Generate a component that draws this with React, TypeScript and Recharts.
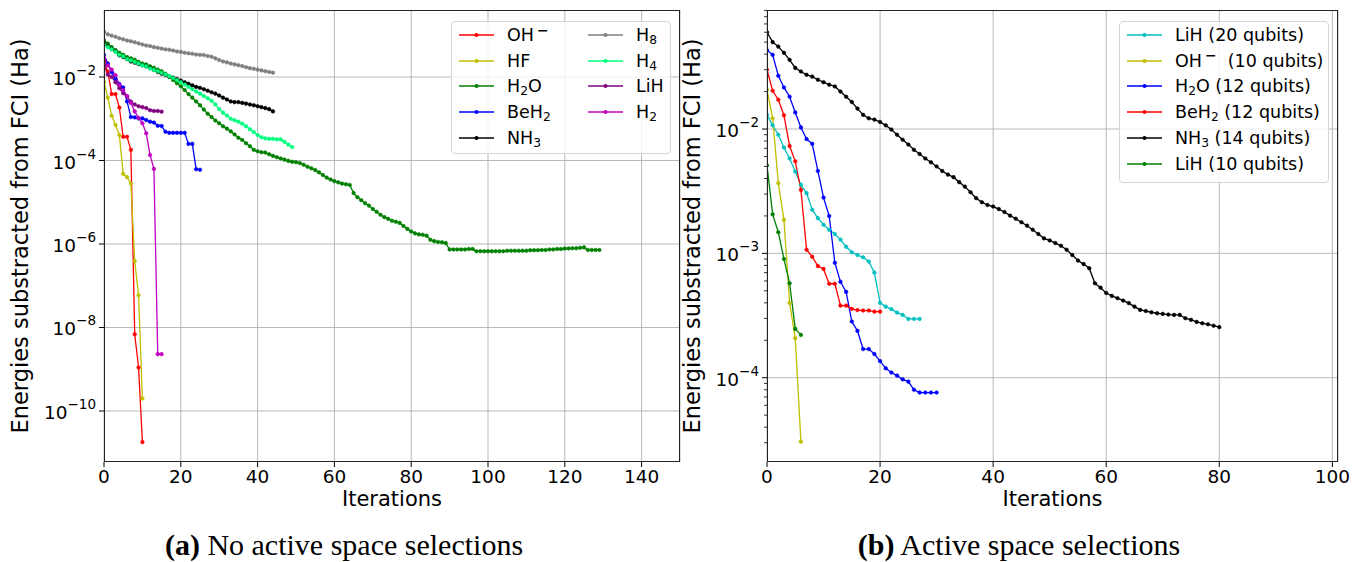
import React from 'react';
import { LineChart, Line, XAxis, YAxis, CartesianGrid, ReferenceLine } from 'recharts';

const FONT = '"DejaVu Sans", Verdana, sans-serif';

// ---------- panel (a): no active space selections ----------
const ITER_TICKS_A = [0, 20, 40, 60, 80, 100, 120, 140];
const LOG_TICKS_A = [1e-10, 1e-8, 1e-6, 1e-4, 1e-2];

const OH_A = [2.3e-2, 1.35e-2, 3.9e-3, 3.9e-3, 1.85e-3, 3.7e-4, 3.7e-4, 1.8e-4, 6.9e-9, 1.1e-9, 1.8e-11];
const HF_A = [7.5e-3, 3.2e-3, 1.18e-3, 7.1e-4, 4.1e-4, 4.8e-5, 4.0e-5, 2.8e-5, 3.9e-7, 5.9e-8, 2.0e-10];
const H2O_A = [
  7.6e-2, 6.3e-2, 5.2e-2, 4.4e-2, 3.8e-2, 3.4e-2, 3.0e-2, 2.8e-2, 2.6e-2, 2.3e-2,
  2.1e-2, 2.0e-2, 1.8e-2, 1.66e-2, 1.5e-2, 1.38e-2, 1.2e-2, 1.0e-2, 8.5e-3, 7.1e-3,
  6.0e-3, 4.9e-3, 3.9e-3, 3.2e-3, 2.6e-3, 2.1e-3, 1.66e-3, 1.32e-3, 1.1e-3, 9.1e-4,
  7.8e-4, 6.6e-4, 5.8e-4, 5.0e-4, 4.2e-4, 3.5e-4, 3.1e-4, 2.6e-4, 2.2e-4, 1.8e-4,
  1.66e-4, 1.58e-4, 1.55e-4, 1.41e-4, 1.29e-4, 1.2e-4, 1.12e-4, 1.05e-4, 9.8e-5, 9.3e-5,
  9.1e-5, 8.7e-5, 7.9e-5, 7.1e-5, 6.5e-5, 5.9e-5, 5.2e-5, 4.5e-5, 3.9e-5, 3.5e-5,
  3.2e-5, 3.0e-5, 2.8e-5, 2.7e-5, 2.6e-5, 1.66e-5, 1.32e-5, 1.12e-5, 9.5e-6, 8.3e-6,
  6.9e-6, 5.9e-6, 5.0e-6, 4.4e-6, 4.0e-6, 3.6e-6, 3.4e-6, 3.2e-6, 2.7e-6, 2.3e-6,
  2.0e-6, 1.8e-6, 1.7e-6, 1.66e-6, 1.58e-6, 1.26e-6, 1.17e-6, 1.12e-6, 1.1e-6, 1.05e-6,
  7.4e-7, 7.4e-7, 7.4e-7, 7.4e-7, 7.4e-7, 7.6e-7, 7.6e-7, 6.7e-7, 6.7e-7, 6.7e-7,
  6.7e-7, 6.7e-7, 6.7e-7, 6.7e-7, 6.7e-7, 6.9e-7, 6.9e-7, 6.9e-7, 6.9e-7, 6.9e-7,
  6.9e-7, 7.1e-7, 7.1e-7, 7.1e-7, 7.2e-7, 7.2e-7, 7.4e-7, 7.4e-7, 7.6e-7, 7.6e-7,
  7.8e-7, 7.8e-7, 7.9e-7, 7.9e-7, 8.1e-7, 8.3e-7, 7.2e-7, 7.2e-7, 7.2e-7, 7.2e-7,
];
const BEH2_A = [
  3.4e-2, 2.1e-2, 1.3e-2, 9.0e-3, 6.8e-3, 5.6e-3, 2.6e-3, 1.1e-3, 1.08e-3, 1.02e-3,
  1.02e-3, 9.3e-4, 8.5e-4, 8.1e-4, 6.8e-4, 6.7e-4, 4.9e-4, 4.6e-4, 4.6e-4, 4.6e-4,
  4.6e-4, 4.6e-4, 2.5e-4, 2.5e-4, 6.2e-5, 6.0e-5,
];
const NH3_A = [
  6.4e-2, 5.5e-2, 4.7e-2, 4.1e-2, 3.3e-2, 3.0e-2, 2.7e-2, 2.35e-2, 2.2e-2, 2.05e-2,
  1.92e-2, 1.8e-2, 1.65e-2, 1.48e-2, 1.32e-2, 1.2e-2, 1.12e-2, 1.04e-2, 9.7e-3, 8.9e-3,
  8.2e-3, 7.5e-3, 6.9e-3, 6.3e-3, 5.8e-3, 5.5e-3, 5.1e-3, 4.7e-3, 4.3e-3, 4.0e-3,
  3.6e-3, 3.2e-3, 2.9e-3, 2.6e-3, 2.5e-3, 2.5e-3, 2.4e-3, 2.3e-3, 2.2e-3, 2.1e-3,
  2.0e-3, 1.9e-3, 1.8e-3, 1.7e-3, 1.5e-3,
];
const H8_A = [
  1.22e-1, 1.05e-1, 9.8e-2, 9.2e-2, 8.5e-2, 8.0e-2, 7.5e-2, 7.2e-2, 6.8e-2, 6.4e-2,
  6.0e-2, 5.7e-2, 5.5e-2, 5.2e-2, 5.0e-2, 4.8e-2, 4.6e-2, 4.5e-2, 4.3e-2, 4.1e-2,
  4.0e-2, 3.8e-2, 3.7e-2, 3.6e-2, 3.45e-2, 3.4e-2, 3.36e-2, 3.2e-2, 3.07e-2, 2.8e-2,
  2.55e-2, 2.36e-2, 2.24e-2, 2.1e-2, 2.01e-2, 1.92e-2, 1.83e-2, 1.72e-2, 1.63e-2, 1.57e-2,
  1.5e-2, 1.44e-2, 1.38e-2, 1.32e-2, 1.27e-2,
];
const H4_A = [
  6.0e-2, 5.2e-2, 4.6e-2, 4.0e-2, 3.4e-2, 3.1e-2, 2.7e-2, 2.5e-2, 2.3e-2, 2.1e-2,
  1.9e-2, 1.8e-2, 1.6e-2, 1.48e-2, 1.37e-2, 1.26e-2, 1.15e-2, 1.05e-2, 9.5e-3, 8.5e-3,
  7.5e-3, 6.6e-3, 5.8e-3, 5.1e-3, 4.5e-3, 4.0e-3, 3.5e-3, 3.1e-3, 2.7e-3, 2.2e-3,
  1.7e-3, 1.4e-3, 1.2e-3, 1.0e-3, 9.2e-4, 8.5e-4, 7.6e-4, 6.6e-4, 5.6e-4, 4.8e-4,
  4.1e-4, 3.6e-4, 3.4e-4, 3.3e-4, 3.3e-4, 3.2e-4, 3.2e-4, 2.8e-4, 2.4e-4, 2.1e-4,
];
const LIH_A = [
  1.9e-2, 1.15e-2, 1.0e-2, 7.5e-3, 5.4e-3, 4.1e-3, 3.4e-3, 2.6e-3, 2.2e-3, 2.0e-3,
  1.9e-3, 1.8e-3, 1.6e-3, 1.54e-3, 1.54e-3, 1.48e-3,
];
const H2_A = [
  2.8e-2, 1.9e-2, 1.5e-2, 1.1e-2, 6.5e-3, 4.8e-3, 3.5e-3, 2.4e-3, 1.5e-3, 1.05e-3,
  7.8e-4, 4.5e-4, 1.35e-4, 6.3e-5, 2.3e-9, 2.3e-9,
];

// ---------- panel (b): active space selections ----------
const ITER_TICKS_B = [0, 20, 40, 60, 80, 100];
const LOG_TICKS_B = [
  3e-5, 4e-5, 5e-5, 6e-5, 7e-5, 8e-5, 9e-5,
  1e-4, 2e-4, 3e-4, 4e-4, 5e-4, 6e-4, 7e-4, 8e-4, 9e-4,
  1e-3, 2e-3, 3e-3, 4e-3, 5e-3, 6e-3, 7e-3, 8e-3, 9e-3,
  1e-2, 2e-2, 3e-2, 4e-2, 5e-2, 6e-2, 7e-2, 8e-2, 9e-2,
];
const GRID_B = [1e-4, 1e-3, 1e-2];

const LIH20_B = [
  1.3e-2, 1.07e-2, 9.0e-3, 7.1e-3, 5.8e-3, 4.55e-3, 3.56e-3, 3.05e-3, 2.24e-3, 1.92e-3,
  1.7e-3, 1.55e-3, 1.43e-3, 1.29e-3, 1.13e-3, 1.02e-3, 9.7e-4, 9.3e-4, 8.6e-4, 7.0e-4,
  4.0e-4, 3.73e-4, 3.56e-4, 3.34e-4, 3.2e-4, 2.97e-4, 2.97e-4, 2.97e-4,
];
const OH_B = [2.07e-2, 1.22e-2, 3.67e-3, 1.86e-3, 4.0e-4, 2.08e-4, 3.06e-5];
const H2O_B = [
  4.3e-2, 3.95e-2, 2.68e-2, 2.16e-2, 1.82e-2, 1.36e-2, 1.03e-2, 8.3e-3, 7.6e-3, 4.6e-3,
  2.81e-3, 2.0e-3, 8.4e-4, 5.9e-4, 4.9e-4, 2.83e-4, 2.38e-4, 1.7e-4, 1.7e-4, 1.55e-4,
  1.36e-4, 1.19e-4, 1.1e-4, 1.04e-4, 9.7e-5, 9.3e-5, 8.0e-5, 7.6e-5, 7.6e-5, 7.6e-5,
  7.6e-5,
];
const BEH2_B = [
  3.0e-2, 2.03e-2, 1.72e-2, 1.29e-2, 7.3e-3, 5.5e-3, 3.24e-3, 1.07e-3, 9.4e-4, 7.9e-4,
  7.5e-4, 5.7e-4, 5.7e-4, 3.8e-4, 3.8e-4, 3.58e-4, 3.5e-4, 3.47e-4, 3.47e-4, 3.4e-4,
  3.4e-4,
];
const NH3_B = [
  6.0e-2, 5.0e-2, 4.6e-2, 4.1e-2, 3.6e-2, 3.1e-2, 2.9e-2, 2.73e-2, 2.64e-2, 2.49e-2,
  2.38e-2, 2.27e-2, 2.2e-2, 2.0e-2, 1.82e-2, 1.65e-2, 1.46e-2, 1.3e-2, 1.22e-2, 1.19e-2,
  1.14e-2, 1.07e-2, 9.9e-3, 9.0e-3, 8.2e-3, 7.5e-3, 6.8e-3, 6.3e-3, 5.8e-3, 5.4e-3,
  5.0e-3, 4.6e-3, 4.3e-3, 4.1e-3, 3.74e-3, 3.44e-3, 3.1e-3, 2.78e-3, 2.58e-3, 2.45e-3,
  2.38e-3, 2.27e-3, 2.15e-3, 2.01e-3, 1.9e-3, 1.78e-3, 1.67e-3, 1.55e-3, 1.43e-3, 1.32e-3,
  1.27e-3, 1.21e-3, 1.15e-3, 1.07e-3, 9.7e-4, 8.75e-4, 8.2e-4, 7.6e-4, 5.75e-4, 5.3e-4,
  4.8e-4, 4.55e-4, 4.36e-4, 4.17e-4, 3.98e-4, 3.73e-4, 3.51e-4, 3.44e-4, 3.36e-4, 3.3e-4,
  3.26e-4, 3.22e-4, 3.2e-4, 3.2e-4, 3.01e-4, 2.92e-4, 2.81e-4, 2.74e-4, 2.69e-4, 2.62e-4,
  2.55e-4,
];
const LIH10_B = [5.1e-3, 2.06e-3, 1.48e-3, 9.0e-4, 5.75e-4, 2.47e-4, 2.21e-4];

// labels use _x for subscript and ^x for superscript
const SERIES_A = [
  { name: 'OH^−', color: '#ff0000', data: OH_A },
  { name: 'HF', color: '#bfbf00', data: HF_A },
  { name: 'H_2O', color: '#008000', data: H2O_A },
  { name: 'BeH_2', color: '#0000ff', data: BEH2_A },
  { name: 'NH_3', color: '#000000', data: NH3_A },
  { name: 'H_8', color: '#808080', data: H8_A },
  { name: 'H_4', color: '#00ff7f', data: H4_A },
  { name: 'LiH', color: '#800080', data: LIH_A },
  { name: 'H_2', color: '#bf00bf', data: H2_A },
];

const SERIES_B = [
  { name: 'LiH (20 qubits)', color: '#00bfbf', data: LIH20_B },
  { name: 'OH^−  (10 qubits)', color: '#bfbf00', data: OH_B },
  { name: 'H_2O (12 qubits)', color: '#0000ff', data: H2O_B },
  { name: 'BeH_2 (12 qubits)', color: '#ff0000', data: BEH2_B },
  { name: 'NH_3 (14 qubits)', color: '#000000', data: NH3_B },
  { name: 'LiH (10 qubits)', color: '#008000', data: LIH10_B },
];

const toPoints = (vals: number[]) => vals.map((v, i) => ({ it: i, v }));

const formatName = (s: string) => {
  const parts = s.split(/([_^].)/);
  return parts.map((p, i) => {
    if (p.startsWith('_') && p.length === 2)
      return <sub key={i} style={{ fontSize: '0.7em', verticalAlign: '-0.25em', lineHeight: 0 }}>{p[1]}</sub>;
    if (p.startsWith('^') && p.length === 2)
      return <sup key={i} style={{ fontSize: '0.8em', fontWeight: 'bold', verticalAlign: '0.45em', lineHeight: 0, marginLeft: 3 }}>{p[1]}</sup>;
    return <span key={i} style={{ whiteSpace: 'pre' }}>{p}</span>;
  });
};

const LogTick = (props: any) => {
  const { x, y, payload } = props;
  const exp = Math.log10(payload.value);
  const e = Math.round(exp);
  if (Math.abs(exp - e) > 1e-6) {
    return <line x1={x - 3} x2={x} y1={y} y2={y} stroke="#000" strokeWidth={0.8} />;
  }
  return (
    <g>
      <line x1={x - 5} x2={x} y1={y} y2={y} stroke="#000" strokeWidth={1} />
      <text x={x - 8} y={y + 8} textAnchor="end" fontSize={18.5} fontFamily={FONT} fill="#000">
        10<tspan dy={-10} fontSize={13.5}>{'\u2212' + Math.abs(e)}</tspan>
      </text>
    </g>
  );
};

type PanelProps = {
  series: { name: string; color: string; data: number[] }[];
  left: number;
  width: number;
  yAxisWidth: number;
  marginRight: number;
  labelOffset: number;
  xDomain: number[];
  xTicks: number[];
  yDomain: number[];
  yTicks: number[];
  gridY: number[];
  legend: { left: number; width: number; height: number; cols: number[]; rows: number };
};

const Panel = ({ series, left, width, yAxisWidth, marginRight, labelOffset, xDomain, xTicks, yDomain, yTicks, gridY, legend }: PanelProps) => {
  const plotW = width - yAxisWidth - marginRight;
  return (
    <div style={{ position: 'absolute', left, top: 0, width, height: 520 }}>
      <LineChart width={width} height={520} margin={{ top: 10, right: marginRight, bottom: 0, left: 0 }}>
        <CartesianGrid horizontal={false} stroke="#b0b0b0" strokeWidth={0.9} />
        {gridY.map((g) => (
          <ReferenceLine key={g} y={g} stroke="#b0b0b0" strokeWidth={0.9} />
        ))}
        <XAxis
          dataKey="it"
          type="number"
          domain={xDomain}
          ticks={xTicks}
          interval={0}
          allowDataOverflow
          axisLine={false}
          tickSize={5}
          tickMargin={3}
          tickLine={{ stroke: '#000' }}
          tick={{ fontSize: 18.5, fill: '#000', fontFamily: FONT }}
          height={58}
          label={{ value: 'Iterations', position: 'insideBottom', offset: 14, style: { fontSize: 21, fill: '#000', fontFamily: FONT } }}
        />
        <YAxis
          type="number"
          scale="log"
          domain={yDomain}
          allowDataOverflow
          ticks={yTicks}
          interval={0}
          tick={<LogTick />}
          tickLine={false}
          tickSize={0}
          tickMargin={0}
          axisLine={false}
          width={yAxisWidth}
          label={{
            value: 'Energies substracted from FCI (Ha)',
            angle: -90,
            position: 'insideLeft',
            offset: labelOffset,
            style: { textAnchor: 'middle', fontSize: 22.5, fill: '#000', fontFamily: FONT },
          }}
        />
        {series.map((s) => (
          <Line
            key={s.name}
            data={toPoints(s.data)}
            dataKey="v"
            stroke={s.color}
            strokeWidth={1.3}
            dot={{ r: 1.8, fill: s.color, stroke: s.color, strokeWidth: 0.6 }}
            isAnimationActive={false}
          />
        ))}
      </LineChart>
      <div
        style={{
          position: 'absolute', left: yAxisWidth, top: 10, width: plotW, height: 452,
          border: '1.2px solid #222', boxSizing: 'border-box', pointerEvents: 'none',
        }}
      />
      <div
        style={{
          position: 'absolute', left: legend.left, top: 21, width: legend.width, height: legend.height,
          border: '1px solid #d6d6d6', borderRadius: 4, background: 'rgba(255,255,255,0.8)',
          boxSizing: 'border-box', fontFamily: FONT, fontSize: 17.5, color: '#000',
        }}
      >
        {series.map((s, i) => {
          const col = Math.floor(i / legend.rows);
          const row = i % legend.rows;
          const cx = legend.cols[col];
          const cy = 13 + row * 25.7;
          return (
            <div key={s.name} style={{ position: 'absolute', left: cx, top: cy - 12, height: 24, width: 200 }}>
              <svg width={40} height={24} style={{ position: 'absolute', left: 0, top: 0 }}>
                <line x1={2} x2={37} y1={12} y2={12} stroke={s.color} strokeWidth={1.5} />
                <circle cx={19.5} cy={12} r={2} fill={s.color} />
              </svg>
              <div style={{ position: 'absolute', left: 50, top: 0, lineHeight: '24px', whiteSpace: 'pre' }}>
                {formatName(s.name)}
              </div>
            </div>
          );
        })}
      </div>
    </div>
  );
};

const CAPTION: React.CSSProperties = {
  position: 'absolute', top: 530, height: 30, lineHeight: '30px', textAlign: 'center', whiteSpace: 'nowrap',
  fontFamily: '"Liberation Serif", "Times New Roman", serif', fontSize: 30, color: '#000',
};

const App = () => (
  <div style={{ position: 'absolute', left: 0, top: 0, width: 1355, height: 562, background: '#fff', overflow: 'hidden' }}>
    <Panel
      series={SERIES_A}
      left={0}
      width={700}
      yAxisWidth={104}
      marginRight={20}
      labelOffset={20}
      xDomain={[0, 150]}
      xTicks={ITER_TICKS_A}
      yDomain={[6e-12, 0.403]}
      yTicks={LOG_TICKS_A}
      gridY={LOG_TICKS_A}
      legend={{ left: 451, width: 220, height: 133, cols: [5, 134], rows: 5 }}
    />
    <Panel
      series={SERIES_B}
      left={680}
      width={675}
      yAxisWidth={87}
      marginRight={17}
      labelOffset={12}
      xDomain={[0, 101]}
      xTicks={ITER_TICKS_B}
      yDomain={[2.1e-5, 0.0906]}
      yTicks={LOG_TICKS_B}
      gridY={GRID_B}
      legend={{ left: 439, width: 210, height: 162, cols: [5], rows: 6 }}
    />
    <div style={{ ...CAPTION, left: 0, width: 688 }}>
      <b>(a)</b> No active space selections
    </div>
    <div style={{ ...CAPTION, left: 680, width: 678 }}>
      <b>(b)</b> Active space selections
    </div>
  </div>
);

export default App;
